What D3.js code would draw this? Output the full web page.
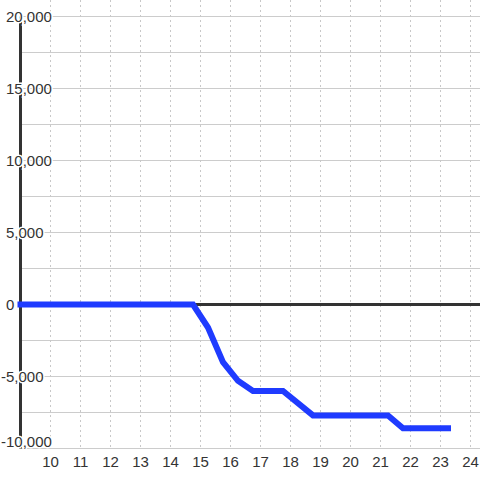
<!DOCTYPE html>
<meta charset="utf-8">
<style>
  body { margin: 0; background: #fff; }
  svg { display: block; font-family: "Liberation Sans", Arial, sans-serif; }
</style>
<script src="https://d3js.org/d3.v7.min.js"></script>
<div id="chart"></div>
<script>
// data: hour of day vs. cumulative value
var hours  = [9, 14.75, 15.25, 15.75, 16.25, 16.75, 17.75, 18.75, 21.25, 21.75, 23.25];
var values = [0, 0, -1600, -4000, -5300, -6000, -6000, -7700, -7700, -8600, -8600];
var xTicks = [10, 11, 12, 13, 14, 15, 16, 17, 18, 19, 20, 21, 22, 23, 24];
var yTicks = [-10000, -5000, 0, 5000, 10000, 15000, 20000];
var yGrid  = d3.range(-10000, 20001, 2500);

var W = 480, H = 480;

var svg = d3.select("#chart").append("svg")
    .attr("width", W)
    .attr("height", H);

var x = d3.scaleLinear().domain([9, 24]).range([20.5, 470.5]);
var y = d3.scaleLinear().domain([-10000, 20000]).range([448.5, 16.5]);

// horizontal grid
svg.append("g").selectAll("line")
  .data(yGrid).enter().append("line")
    .attr("x1", x(9)).attr("x2", W)
    .attr("y1", function(d) { return y(d); })
    .attr("y2", function(d) { return y(d); })
    .style("stroke", "#cccccc")
    .style("stroke-width", 1);

// vertical dashed grid
svg.append("g").selectAll("line")
  .data(xTicks).enter().append("line")
    .attr("x1", function(d) { return x(d); })
    .attr("x2", function(d) { return x(d); })
    .attr("y1", 0).attr("y2", y(-10000))
    .style("stroke", "#c8c8c8")
    .style("stroke-width", 1)
    .style("stroke-dasharray", "2,3");

// zero line
svg.append("line")
    .attr("x1", x(9)).attr("x2", W)
    .attr("y1", y(0)).attr("y2", y(0))
    .style("stroke", "#333")
    .style("stroke-width", 3);

// y axis line
svg.append("line")
    .attr("x1", x(9)).attr("x2", x(9))
    .attr("y1", y(20000)).attr("y2", y(-10000))
    .style("stroke", "#333")
    .style("stroke-width", 3);

// the series
var line = d3.line()
    .x(function(d) { return x(d[0]); })
    .y(function(d) { return y(d[1]); });

svg.append("path")
    .datum(hours.map(function(h, i) { return [h, values[i]]; }))
    .attr("d", line)
    .style("fill", "none")
    .style("stroke", "#1f3bff")
    .style("stroke-width", 6)
    .style("stroke-linecap", "square");

// y labels (with halo so they sit over the axis line)
var fmt = d3.format(",");
svg.append("g").selectAll("text")
  .data(yTicks).enter().append("text")
    .attr("x", function(d) { return d < 0 ? 1 : 6; })
    .attr("y", function(d) { return y(d) + (d === -10000 ? -7 : 0); })
    .attr("dy", "0.35em")
    .style("font-size", "15px")
    .style("fill", "#333")
    .style("stroke", "#fff")
    .style("stroke-width", 3)
    .style("paint-order", "stroke")
    .text(function(d) { return fmt(d).replace("−", "-"); });

// x labels
svg.append("g").selectAll("text")
  .data(xTicks).enter().append("text")
    .attr("x", function(d) { return x(d); })
    .attr("y", 466.5)
    .attr("text-anchor", "middle")
    .style("font-size", "15px")
    .style("fill", "#333")
    .text(function(d) { return d; });
</script>
